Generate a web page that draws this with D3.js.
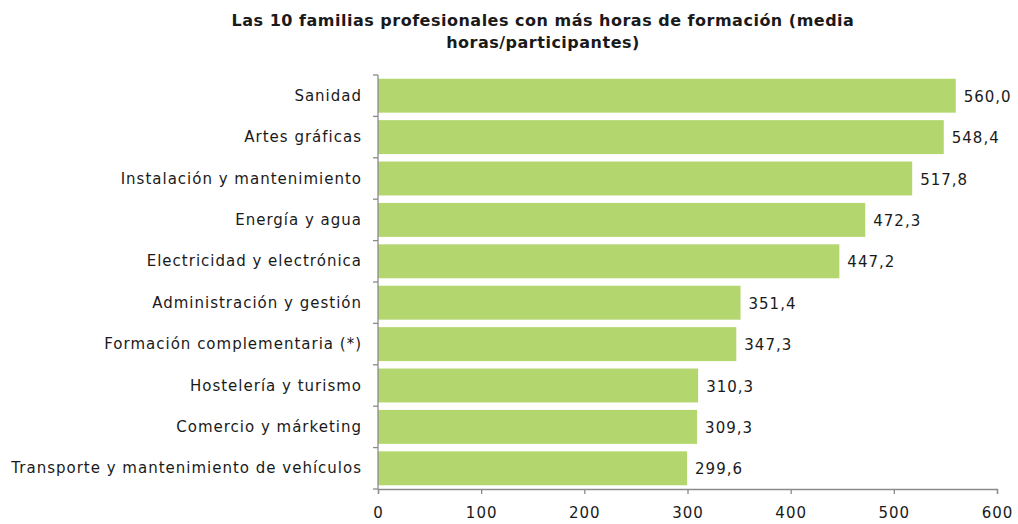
<!DOCTYPE html>
<html lang="es">
<head>
<meta charset="UTF-8"/>
<title>Familias profesionales</title>
<script src="https://d3js.org/d3.v7.min.js"></script>
<style>
  body { margin: 0; background: #fff; }
  text { font-family: "DejaVu Sans", Verdana, sans-serif; fill: #1a1a1a; }
</style>
</head>
<body>
<div id="chart"></div>
<script>
// Datos del gráfico
var familias = [
  "Sanidad",
  "Artes gráficas",
  "Instalación y mantenimiento",
  "Energía y agua",
  "Electricidad y electrónica",
  "Administración y gestión",
  "Formación complementaria (*)",
  "Hostelería y turismo",
  "Comercio y márketing",
  "Transporte y mantenimiento de vehículos"
];
var horas = [560.0, 548.4, 517.8, 472.3, 447.2, 351.4, 347.3, 310.3, 309.3, 299.6];
var ticksX = [0, 100, 200, 300, 400, 500, 600];
var tituloLineas = [
  "Las 10 familias profesionales con más horas de formación (media",
  "horas/participantes)"
];

var width = 1018, height = 524;
var margin = { top: 75, right: 21, bottom: 35, left: 378 };

var svg = d3.select("#chart").append("svg")
  .attr("width", width)
  .attr("height", height);

// Título
svg.append("g").selectAll("text")
  .data(tituloLineas)
  .enter().append("text")
  .attr("x", 543)
  .attr("y", function(d, i) { return 26 + i * 22; })
  .attr("text-anchor", "middle")
  .style("font-size", "16px")
  .style("font-weight", "bold")
  .style("letter-spacing", "0.5px")
  .text(function(d) { return d; });

var x = d3.scaleLinear()
  .domain([0, 600])
  .range([margin.left, width - margin.right]);

var y = d3.scaleBand()
  .domain(familias)
  .range([margin.top, height - margin.bottom])
  .paddingInner(0.18)
  .paddingOuter(0.09);

// Barras
svg.append("g").selectAll("rect")
  .data(familias)
  .enter().append("rect")
  .attr("x", x(0))
  .attr("y", function(d) { return y(d); })
  .attr("width", function(d, i) { return x(horas[i]) - x(0); })
  .attr("height", y.bandwidth())
  .attr("fill", "#b4d66f");

// Etiquetas de valor
svg.append("g").selectAll("text")
  .data(familias)
  .enter().append("text")
  .attr("x", function(d, i) { return x(horas[i]) + 8; })
  .attr("y", function(d) { return y(d) + y.bandwidth() / 2 + 6; })
  .style("font-size", "15px")
  .style("letter-spacing", "1px")
  .text(function(d, i) { return horas[i].toFixed(1).replace(".", ","); });

// Eje X
var xAxis = svg.append("g")
  .attr("transform", "translate(0," + (height - margin.bottom) + ")")
  .call(d3.axisBottom(x).tickValues(ticksX).tickSizeOuter(0).tickSize(5).tickPadding(13));

// Eje Y: marcas entre categorías
var yAxisG = svg.append("g");
yAxisG.append("line")
  .attr("x1", margin.left).attr("x2", margin.left)
  .attr("y1", margin.top).attr("y2", height - margin.bottom);
yAxisG.selectAll("line.tick")
  .data(d3.range(familias.length + 1))
  .enter().append("line")
  .attr("class", "tick")
  .attr("x1", margin.left - 5).attr("x2", margin.left)
  .attr("y1", function(i) { return margin.top + i * (height - margin.top - margin.bottom) / familias.length; })
  .attr("y2", function(i) { return margin.top + i * (height - margin.top - margin.bottom) / familias.length; });
yAxisG.selectAll("line").attr("stroke", "#8a8a8a").attr("stroke-width", 1.3);

yAxisG.selectAll("text")
  .data(familias)
  .enter().append("text")
  .attr("x", margin.left - 16)
  .attr("y", function(d) { return y(d) + y.bandwidth() / 2 + 5; })
  .attr("text-anchor", "end")
  .style("font-size", "15px")
  .style("letter-spacing", "1px")
  .text(function(d) { return d; });

xAxis.select(".domain").attr("stroke", "#8a8a8a").attr("stroke-width", 1.3);
xAxis.selectAll(".tick line").attr("stroke", "#8a8a8a").attr("stroke-width", 1.3);
xAxis.selectAll(".tick text")
  .style("font-size", "15px")
  .style("letter-spacing", "1px")
  .style("font-family", "'DejaVu Sans', Verdana, sans-serif")
  .attr("fill", "#1a1a1a");
</script>
</body>
</html>
